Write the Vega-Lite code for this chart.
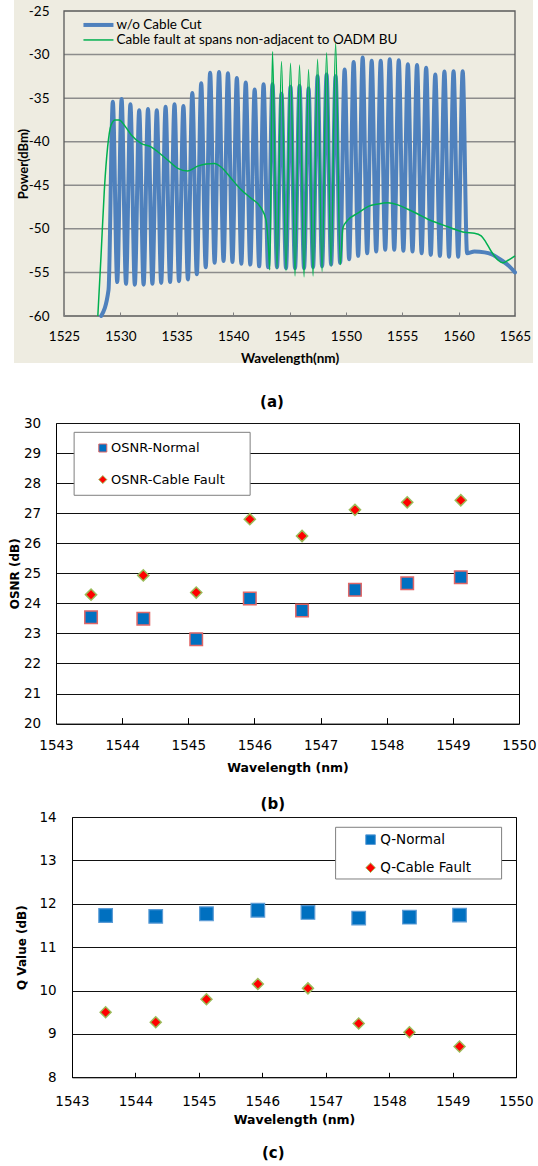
{
  "$schema": "https://vega.github.io/schema/vega-lite/v6.json",
  "background": "white",
  "padding": {"left": 0, "top": 0, "right": 0, "bottom": 0},
  "spacing": 5,
  "resolve": {
    "scale": {"fill": "independent", "stroke": "independent", "shape": "independent", "color": "independent"},
    "legend": {"fill": "independent", "stroke": "independent", "shape": "independent", "color": "independent"}
  },
  "config": {"axis": {"labelFlush": false, "labelOverlap": false}},
  "datasets": {
    "gridA": [{"g": -30}, {"g": -35}, {"g": -40}, {"g": -45}, {"g": -50}, {"g": -55}],
    "blue": [
      {"wl": 1528.30, "p": -60.0}, {"wl": 1528.95, "p": -57.0},
      {"wl": 1529.33, "p": -35.4}, {"wl": 1529.72, "p": -56.1},
      {"wl": 1530.11, "p": -35.1}, {"wl": 1530.50, "p": -56.3},
      {"wl": 1530.89, "p": -35.7}, {"wl": 1531.28, "p": -56.4},
      {"wl": 1531.67, "p": -36.4}, {"wl": 1532.06, "p": -56.4},
      {"wl": 1532.45, "p": -36.25}, {"wl": 1532.84, "p": -56.3},
      {"wl": 1533.23, "p": -36.4}, {"wl": 1533.62, "p": -56.2},
      {"wl": 1534.01, "p": -36.0}, {"wl": 1534.41, "p": -56.1},
      {"wl": 1534.80, "p": -35.7}, {"wl": 1535.20, "p": -56.0},
      {"wl": 1535.59, "p": -35.9}, {"wl": 1535.99, "p": -55.8},
      {"wl": 1536.38, "p": -34.4}, {"wl": 1536.78, "p": -55.2},
      {"wl": 1537.17, "p": -33.3}, {"wl": 1537.57, "p": -54.4},
      {"wl": 1537.96, "p": -32.1}, {"wl": 1538.36, "p": -53.9},
      {"wl": 1538.75, "p": -32.0}, {"wl": 1539.15, "p": -53.7},
      {"wl": 1539.54, "p": -32.15}, {"wl": 1539.94, "p": -53.8},
      {"wl": 1540.33, "p": -32.7}, {"wl": 1540.73, "p": -54.0},
      {"wl": 1541.12, "p": -33.2}, {"wl": 1541.52, "p": -54.1},
      {"wl": 1541.91, "p": -34.0}, {"wl": 1542.31, "p": -54.3},
      {"wl": 1542.70, "p": -33.4}, {"wl": 1543.10, "p": -54.4},
      {"wl": 1543.49, "p": -33.4}, {"wl": 1543.89, "p": -54.4},
      {"wl": 1544.29, "p": -34.5}, {"wl": 1544.69, "p": -54.5},
      {"wl": 1545.09, "p": -33.7}, {"wl": 1545.49, "p": -54.5},
      {"wl": 1545.89, "p": -33.6}, {"wl": 1546.29, "p": -54.5},
      {"wl": 1546.69, "p": -33.9}, {"wl": 1547.09, "p": -54.4},
      {"wl": 1547.49, "p": -32.5}, {"wl": 1547.89, "p": -54.3},
      {"wl": 1548.29, "p": -32.3}, {"wl": 1548.69, "p": -54.1},
      {"wl": 1549.09, "p": -32.5}, {"wl": 1549.49, "p": -53.9},
      {"wl": 1549.89, "p": -31.7}, {"wl": 1550.29, "p": -53.5},
      {"wl": 1550.69, "p": -30.85}, {"wl": 1551.09, "p": -53.1},
      {"wl": 1551.49, "p": -30.35}, {"wl": 1551.89, "p": -52.8},
      {"wl": 1552.29, "p": -30.7}, {"wl": 1552.69, "p": -52.6},
      {"wl": 1553.09, "p": -30.7}, {"wl": 1553.49, "p": -52.4},
      {"wl": 1553.89, "p": -30.55}, {"wl": 1554.29, "p": -52.4},
      {"wl": 1554.69, "p": -30.65}, {"wl": 1555.10, "p": -52.5},
      {"wl": 1555.50, "p": -31.1}, {"wl": 1555.91, "p": -52.6},
      {"wl": 1556.31, "p": -31.2}, {"wl": 1556.72, "p": -52.8},
      {"wl": 1557.12, "p": -31.5}, {"wl": 1557.53, "p": -53.0},
      {"wl": 1557.93, "p": -32.3}, {"wl": 1558.34, "p": -53.1},
      {"wl": 1558.74, "p": -31.95}, {"wl": 1559.15, "p": -53.2},
      {"wl": 1559.55, "p": -31.9}, {"wl": 1559.96, "p": -53.2},
      {"wl": 1560.36, "p": -31.9},
      {"wl": 1560.75, "p": -52.8}, {"wl": 1561.40, "p": -52.6}, {"wl": 1562.30, "p": -52.7},
      {"wl": 1562.90, "p": -52.9}, {"wl": 1563.80, "p": -53.6}, {"wl": 1564.50, "p": -54.3},
      {"wl": 1565.00, "p": -55.0}
    ],
    "green": [
      {"wl": 1528.00, "p": -60.0}, {"wl": 1528.28, "p": -53.2}, {"wl": 1528.58, "p": -45.5},
      {"wl": 1528.87, "p": -40.6}, {"wl": 1529.17, "p": -38.1}, {"wl": 1529.53, "p": -37.5},
      {"wl": 1529.90, "p": -37.5}, {"wl": 1530.35, "p": -38.1}, {"wl": 1530.95, "p": -39.2},
      {"wl": 1531.83, "p": -40.2}, {"wl": 1532.72, "p": -40.6}, {"wl": 1533.31, "p": -41.15},
      {"wl": 1534.20, "p": -42.1}, {"wl": 1535.09, "p": -43.05}, {"wl": 1535.98, "p": -43.35},
      {"wl": 1536.86, "p": -42.8}, {"wl": 1537.60, "p": -42.55}, {"wl": 1538.34, "p": -42.5},
      {"wl": 1538.93, "p": -42.9}, {"wl": 1539.82, "p": -44.2}, {"wl": 1540.70, "p": -45.5},
      {"wl": 1541.60, "p": -46.5}, {"wl": 1542.48, "p": -47.6}, {"wl": 1542.92, "p": -49.0},
      {"wl": 1543.13, "p": -52.0}, {"wl": 1543.25, "p": -54.7},
      {"wl": 1543.49, "p": -29.65}, {"wl": 1543.89, "p": -54.6},
      {"wl": 1544.29, "p": -30.8}, {"wl": 1544.69, "p": -54.8},
      {"wl": 1545.09, "p": -31.0}, {"wl": 1545.49, "p": -55.4},
      {"wl": 1545.89, "p": -31.2}, {"wl": 1546.29, "p": -55.5},
      {"wl": 1546.69, "p": -31.7}, {"wl": 1547.09, "p": -55.4},
      {"wl": 1547.49, "p": -30.55}, {"wl": 1547.89, "p": -54.9},
      {"wl": 1548.29, "p": -29.8}, {"wl": 1548.69, "p": -54.3},
      {"wl": 1549.09, "p": -28.7}, {"wl": 1549.50, "p": -54.1},
      {"wl": 1549.73, "p": -49.9}, {"wl": 1550.17, "p": -49.0}, {"wl": 1551.06, "p": -48.2},
      {"wl": 1551.95, "p": -47.45}, {"wl": 1552.84, "p": -47.15}, {"wl": 1553.72, "p": -47.0},
      {"wl": 1554.61, "p": -47.25}, {"wl": 1555.50, "p": -47.75}, {"wl": 1556.38, "p": -48.3},
      {"wl": 1557.27, "p": -48.9}, {"wl": 1558.16, "p": -49.35}, {"wl": 1559.05, "p": -49.75},
      {"wl": 1560.08, "p": -50.25}, {"wl": 1560.50, "p": -50.4}, {"wl": 1561.40, "p": -50.5},
      {"wl": 1562.00, "p": -50.8}, {"wl": 1562.40, "p": -51.5}, {"wl": 1562.90, "p": -52.6},
      {"wl": 1563.50, "p": -53.6}, {"wl": 1563.90, "p": -53.9}, {"wl": 1564.40, "p": -53.6},
      {"wl": 1565.00, "p": -53.1}
    ],
    "osnr": [
      {"wl": 1543.53, "v": 23.54, "s": "OSNR-Normal"},
      {"wl": 1544.32, "v": 23.49, "s": "OSNR-Normal"},
      {"wl": 1545.12, "v": 22.81, "s": "OSNR-Normal"},
      {"wl": 1545.93, "v": 24.16, "s": "OSNR-Normal"},
      {"wl": 1546.72, "v": 23.76, "s": "OSNR-Normal"},
      {"wl": 1547.52, "v": 24.45, "s": "OSNR-Normal"},
      {"wl": 1548.31, "v": 24.67, "s": "OSNR-Normal"},
      {"wl": 1549.12, "v": 24.87, "s": "OSNR-Normal"},
      {"wl": 1543.53, "v": 24.29, "s": "OSNR-Cable Fault"},
      {"wl": 1544.32, "v": 24.93, "s": "OSNR-Cable Fault"},
      {"wl": 1545.12, "v": 24.36, "s": "OSNR-Cable Fault"},
      {"wl": 1545.93, "v": 26.80, "s": "OSNR-Cable Fault"},
      {"wl": 1546.72, "v": 26.24, "s": "OSNR-Cable Fault"},
      {"wl": 1547.52, "v": 27.11, "s": "OSNR-Cable Fault"},
      {"wl": 1548.31, "v": 27.36, "s": "OSNR-Cable Fault"},
      {"wl": 1549.12, "v": 27.43, "s": "OSNR-Cable Fault"}
    ],
    "q": [
      {"wl": 1543.53, "v": 11.73, "s": "Q-Normal"},
      {"wl": 1544.32, "v": 11.71, "s": "Q-Normal"},
      {"wl": 1545.12, "v": 11.77, "s": "Q-Normal"},
      {"wl": 1545.93, "v": 11.85, "s": "Q-Normal"},
      {"wl": 1546.72, "v": 11.80, "s": "Q-Normal"},
      {"wl": 1547.52, "v": 11.67, "s": "Q-Normal"},
      {"wl": 1548.32, "v": 11.69, "s": "Q-Normal"},
      {"wl": 1549.11, "v": 11.74, "s": "Q-Normal"},
      {"wl": 1543.53, "v": 9.50, "s": "Q-Cable Fault"},
      {"wl": 1544.32, "v": 9.27, "s": "Q-Cable Fault"},
      {"wl": 1545.12, "v": 9.80, "s": "Q-Cable Fault"},
      {"wl": 1545.93, "v": 10.15, "s": "Q-Cable Fault"},
      {"wl": 1546.72, "v": 10.05, "s": "Q-Cable Fault"},
      {"wl": 1547.52, "v": 9.24, "s": "Q-Cable Fault"},
      {"wl": 1548.32, "v": 9.04, "s": "Q-Cable Fault"},
      {"wl": 1549.11, "v": 8.71, "s": "Q-Cable Fault"}
    ]
  },
  "vconcat": [
    {
      "spacing": 0,
      "resolve": {
        "scale": {"fill": "independent", "stroke": "independent", "shape": "independent", "color": "independent"},
        "legend": {"fill": "independent", "stroke": "independent", "shape": "independent", "color": "independent"}
      },
      "hconcat": [
        {"width": 13, "height": 1, "view": {"stroke": null}, "data": {"values": []}, "mark": {"type": "point"}},
        {
          "width": 451,
          "height": 305,
          "view": {"stroke": null},
          "title": {"text": "(a)", "orient": "bottom", "anchor": "middle", "frame": "group", "dx": -17.5, "offset": 29.2, "font": "DejaVu Sans", "fontSize": 15, "fontWeight": "bold", "color": "#000"},
          "layer": [
            {
              "data": {"values": [{}]},
              "mark": {"type": "rect", "fill": "#EEECE1", "clip": false},
              "encoding": {
                "x": {"datum": 1520.565, "type": "quantitative",
                  "scale": {"domain": [1525, 1565], "nice": false, "zero": false},
                  "axis": {"values": [1525, 1530, 1535, 1540, 1545, 1550, 1555, 1560, 1565], "tickCount": 50, "zindex": 1, "format": "d", "domain": false, "grid": false, "ticks": true, "tickSize": -4, "tickColor": "#7F7F7F", "tickWidth": 1, "labelFont": "Lato", "labelFontSize": 13.5, "labelColor": "#000", "labelPadding": 17.9, "title": "Wavelength(nm)", "titleFont": "Lato", "titleFontSize": 13.5, "titleFontWeight": "bold", "titleColor": "#000", "titleY": 35.9, "titleBaseline": "top"}},
                "x2": {"datum": 1566.6},
                "y": {"datum": -23.738, "type": "quantitative",
                  "scale": {"domain": [-60, -25], "nice": false, "zero": false},
                  "axis": {"values": [-60, -55, -50, -45, -40, -35, -30, -25], "tickCount": 50, "zindex": 1, "labelExpr": "'' + datum.value", "domain": false, "grid": false, "ticks": false, "labelFont": "Lato", "labelFontSize": 13.5, "labelColor": "#000", "labelPadding": 15, "title": "Power(dBm)", "titleFont": "Lato", "titleFontSize": 13, "titleFontWeight": "bold", "titleColor": "#000", "titleX": -33.8, "titleBaseline": "bottom"}},
                "y2": {"datum": -65.395}
              }
            },
            {
              "data": {"name": "gridA"},
              "mark": {"type": "rule", "stroke": "#8C8C8C", "strokeWidth": 1.5},
              "encoding": {"y": {"field": "g", "type": "quantitative"}}
            },
            {
              "data": {"values": [{}]},
              "mark": {"type": "rect", "fill": "transparent", "stroke": "#595959", "strokeWidth": 1.3},
              "encoding": {
                "x": {"datum": 1525, "type": "quantitative"},
                "x2": {"datum": 1565},
                "y": {"datum": -25, "type": "quantitative"},
                "y2": {"datum": -60}
              }
            },
            {
              "data": {"name": "blue"},
              "mark": {"type": "line", "interpolate": "monotone", "strokeWidth": 4, "strokeCap": "round", "strokeJoin": "round"},
              "encoding": {
                "x": {"field": "wl", "type": "quantitative"},
                "y": {"field": "p", "type": "quantitative"},
                "color": {"datum": "w/o Cable Cut", "type": "nominal",
                  "scale": {"domain": ["w/o Cable Cut", "Cable fault at spans non-adjacent to OADM BU"], "range": ["#4F81BD", "#00B050"]},
                  "legend": {"title": null, "orient": "none", "legendX": 27.7, "legendY": 7.2, "padding": 0, "symbolType": "M-3,0H3", "symbolSize": 100, "labelFont": "Lato", "labelFontSize": 13.5, "labelColor": "#000", "labelOffset": 11.3, "labelLimit": 0, "rowPadding": -1.8,
                    "encode": {"symbols": {"update": {"strokeWidth": {"signal": "datum.value === 'w/o Cable Cut' ? 4 : 1.5"}}}}}
                }
              }
            },
            {
              "data": {"name": "green"},
              "mark": {"type": "line", "interpolate": "monotone", "strokeWidth": 1.5},
              "encoding": {
                "x": {"field": "wl", "type": "quantitative"},
                "y": {"field": "p", "type": "quantitative"},
                "color": {"datum": "Cable fault at spans non-adjacent to OADM BU", "type": "nominal"}
              }
            }
          ]
        }
      ]
    },
    {
      "spacing": -4,
      "resolve": {
        "scale": {"fill": "independent", "stroke": "independent", "shape": "independent", "color": "independent"},
        "legend": {"fill": "independent", "stroke": "independent", "shape": "independent", "color": "independent"}
      },
      "vconcat": [
        {
          "spacing": 0,
          "resolve": {
            "scale": {"fill": "independent", "stroke": "independent", "shape": "independent", "color": "independent"},
            "legend": {"fill": "independent", "stroke": "independent", "shape": "independent", "color": "independent"}
          },
          "hconcat": [
            {"width": 7.8, "height": 1, "view": {"stroke": null}, "data": {"values": []}, "mark": {"type": "point"}},
            {
              "width": 463,
              "height": 300.6,
              "view": {"stroke": "#000", "strokeWidth": 1},
              "data": {"name": "osnr"},
              "title": {"text": "(b)", "orient": "bottom", "anchor": "middle", "frame": "group", "dx": -14.7, "offset": 23.7, "font": "DejaVu Sans", "fontSize": 15, "fontWeight": "bold", "color": "#000"},
              "layer": [
                {
                  "data": {"values": [{}]},
                  "mark": {"type": "rect", "fill": "#FFFFFF", "stroke": "#7F7F7F", "strokeWidth": 1},
                  "encoding": {
                    "x": {"datum": 1543.274, "type": "quantitative"},
                    "x2": {"datum": 1545.935},
                    "y": {"datum": 29.69, "type": "quantitative"},
                    "y2": {"datum": 27.595}
                  }
                },
                {
                  "transform": [{"filter": "datum.s === 'OSNR-Normal'"}],
                  "mark": {"type": "point", "filled": true, "size": 156, "strokeWidth": 1.5, "opacity": 1},
                  "encoding": {
                    "x": {"field": "wl", "type": "quantitative",
                      "scale": {"domain": [1543, 1550], "nice": false, "zero": false},
                      "axis": {"values": [1543, 1544, 1545, 1546, 1547, 1548, 1549, 1550], "tickCount": 50, "format": "d", "domain": false, "grid": false, "ticks": true, "tickSize": -6, "tickColor": "#000", "tickWidth": 1, "labelFont": "DejaVu Sans", "labelFontSize": 13.5, "labelColor": "#000", "labelPadding": 21.3, "title": "Wavelength (nm)", "titleFont": "DejaVu Sans", "titleFontSize": 12.5, "titleFontWeight": "bold", "titleColor": "#000", "titleY": 37.4, "titleBaseline": "top"}},
                    "y": {"field": "v", "type": "quantitative",
                      "scale": {"domain": [20, 30], "nice": false, "zero": false},
                      "axis": {"values": [20, 21, 22, 23, 24, 25, 26, 27, 28, 29, 30], "tickCount": 50, "format": "d", "domain": false, "grid": true, "gridColor": "#111", "gridWidth": 1, "ticks": false, "labelFont": "DejaVu Sans", "labelFontSize": 13.5, "labelColor": "#000", "labelPadding": 15.4, "title": "OSNR (dB)", "titleFont": "DejaVu Sans", "titleFontSize": 12, "titleFontWeight": "bold", "titleColor": "#000", "titleX": -34.3, "titleBaseline": "bottom"}},
                    "fill": {"field": "s", "type": "nominal",
                      "scale": {"domain": ["OSNR-Normal", "OSNR-Cable Fault"], "range": ["#0070C0", "#FF0000"]},
                      "legend": {"title": null, "orient": "none", "legendX": 18.1, "legendY": 9.5, "padding": 9, "symbolOffset": 13.2, "symbolSize": 64, "symbolStrokeWidth": 1, "labelFont": "DejaVu Sans", "labelFontSize": 13, "labelColor": "#000", "labelOffset": 1.8, "labelLimit": 0, "rowPadding": 17.6}},
                    "stroke": {"field": "s", "type": "nominal",
                      "scale": {"domain": ["OSNR-Normal", "OSNR-Cable Fault"], "range": ["#E06666", "#9BBB59"]}},
                    "shape": {"field": "s", "type": "nominal",
                      "scale": {"domain": ["OSNR-Normal", "OSNR-Cable Fault"], "range": ["square", "diamond"]}}
                  }
                },
                {
                  "transform": [{"filter": "datum.s === 'OSNR-Cable Fault'"}],
                  "mark": {"type": "point", "filled": true, "size": 125, "strokeWidth": 1.5, "opacity": 1},
                  "encoding": {
                    "x": {"field": "wl", "type": "quantitative"},
                    "y": {"field": "v", "type": "quantitative"},
                    "fill": {"field": "s", "type": "nominal"},
                    "stroke": {"field": "s", "type": "nominal"},
                    "shape": {"field": "s", "type": "nominal"}
                  }
                }
              ]
            }
          ]
        },
        {
          "spacing": 0,
          "resolve": {
            "scale": {"fill": "independent", "stroke": "independent", "shape": "independent", "color": "independent"},
            "legend": {"fill": "independent", "stroke": "independent", "shape": "independent", "color": "independent"}
          },
          "hconcat": [
            {"width": 13.9, "height": 1, "view": {"stroke": null}, "data": {"values": []}, "mark": {"type": "point"}},
            {
              "width": 444,
              "height": 260.3,
              "view": {"stroke": "#000", "strokeWidth": 1},
              "data": {"name": "q"},
              "title": {"text": "(c)", "orient": "bottom", "anchor": "middle", "frame": "group", "dx": -20.7, "offset": 20, "font": "DejaVu Sans", "fontSize": 15, "fontWeight": "bold", "color": "#000"},
              "layer": [
                {
                  "data": {"values": [{}]},
                  "mark": {"type": "rect", "fill": "#FFFFFF", "stroke": "#7F7F7F", "strokeWidth": 1},
                  "encoding": {
                    "x": {"datum": 1547.156, "type": "quantitative"},
                    "x2": {"datum": 1549.773},
                    "y": {"datum": 13.763, "type": "quantitative"},
                    "y2": {"datum": 12.571}
                  }
                },
                {
                  "transform": [{"filter": "datum.s === 'Q-Normal'"}],
                  "mark": {"type": "point", "filled": true, "size": 185, "strokeWidth": 1.2, "opacity": 1},
                  "encoding": {
                    "x": {"field": "wl", "type": "quantitative",
                      "scale": {"domain": [1543, 1550], "nice": false, "zero": false},
                      "axis": {"values": [1543, 1544, 1545, 1546, 1547, 1548, 1549, 1550], "tickCount": 50, "format": "d", "domain": false, "grid": false, "ticks": true, "tickSize": -5, "tickColor": "#000", "tickWidth": 1, "labelFont": "DejaVu Sans", "labelFontSize": 13.5, "labelColor": "#000", "labelPadding": 21.7, "title": "Wavelength (nm)", "titleFont": "DejaVu Sans", "titleFontSize": 12.5, "titleFontWeight": "bold", "titleColor": "#000", "titleY": 36.1, "titleBaseline": "top"}},
                    "y": {"field": "v", "type": "quantitative",
                      "scale": {"domain": [8, 14], "nice": false, "zero": false},
                      "axis": {"values": [8, 9, 10, 11, 12, 13, 14], "tickCount": 50, "format": "d", "domain": false, "grid": true, "gridColor": "#111", "gridWidth": 1, "ticks": false, "labelFont": "DejaVu Sans", "labelFontSize": 13.5, "labelColor": "#000", "labelPadding": 15.8, "title": "Q Value (dB)", "titleFont": "DejaVu Sans", "titleFontSize": 12, "titleFontWeight": "bold", "titleColor": "#000", "titleX": -43.7, "titleBaseline": "bottom"}},
                    "fill": {"field": "s", "type": "nominal",
                      "scale": {"domain": ["Q-Normal", "Q-Cable Fault"], "range": ["#0070C0", "#FF0000"]},
                      "legend": {"title": null, "orient": "none", "legendX": 264, "legendY": 10.3, "padding": 5.6, "symbolOffset": 22.2, "symbolSize": 92, "symbolStrokeWidth": 1, "labelFont": "DejaVu Sans", "labelFontSize": 13.5, "labelColor": "#000", "labelOffset": 2.9, "labelLimit": 0, "rowPadding": 13.1}},
                    "stroke": {"field": "s", "type": "nominal",
                      "scale": {"domain": ["Q-Normal", "Q-Cable Fault"], "range": ["#5B9BD5", "#9BBB59"]}},
                    "shape": {"field": "s", "type": "nominal",
                      "scale": {"domain": ["Q-Normal", "Q-Cable Fault"], "range": ["square", "diamond"]}}
                  }
                },
                {
                  "transform": [{"filter": "datum.s === 'Q-Cable Fault'"}],
                  "mark": {"type": "point", "filled": true, "size": 120, "strokeWidth": 1.5, "opacity": 1},
                  "encoding": {
                    "x": {"field": "wl", "type": "quantitative"},
                    "y": {"field": "v", "type": "quantitative"},
                    "fill": {"field": "s", "type": "nominal"},
                    "stroke": {"field": "s", "type": "nominal"},
                    "shape": {"field": "s", "type": "nominal"}
                  }
                }
              ]
            }
          ]
        }
      ]
    }
  ]
}
